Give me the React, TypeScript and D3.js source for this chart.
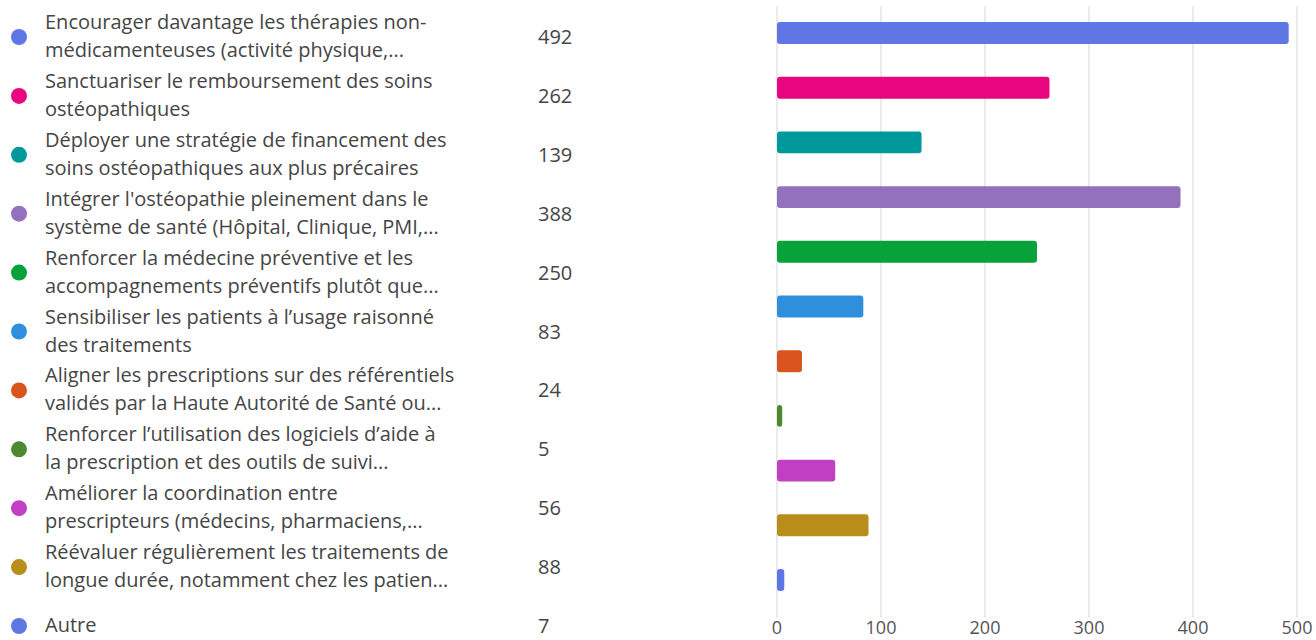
import * as d3 from 'd3';
import { useRef, useEffect } from 'react';

const labels: string[][] = [
    ["Encourager davantage les thérapies non-", "médicamenteuses (activité physique,..."],
    ["Sanctuariser le remboursement des soins", "ostéopathiques"],
    ["Déployer une stratégie de financement des", "soins ostéopathiques aux plus précaires"],
    ["Intégrer l'ostéopathie pleinement dans le", "système de santé (Hôpital, Clinique, PMI,..."],
    ["Renforcer la médecine préventive et les", "accompagnements préventifs plutôt que..."],
    ["Sensibiliser les patients à l’usage raisonné", "des traitements"],
    ["Aligner les prescriptions sur des référentiels", "validés par la Haute Autorité de Santé ou..."],
    ["Renforcer l’utilisation des logiciels d’aide à", "la prescription et des outils de suivi..."],
    ["Améliorer la coordination entre", "prescripteurs (médecins, pharmaciens,..."],
    ["Réévaluer régulièrement les traitements de", "longue durée, notamment chez les patien..."],
    ["Autre"],
];

const counts: number[] = [492, 262, 139, 388, 250, 83, 24, 5, 56, 88, 7];

const colors: string[] = [
    "#5f77e4", "#e8067f", "#00999b", "#9471bd", "#07a23a",
    "#2f8fdc", "#d9531d", "#4d8a2f", "#c03fc2", "#b88d1c", "#5f77e4",
];

const xTicks: number[] = [0, 100, 200, 300, 400, 500];

const W = 1316, H = 640;

const App = () => {
    const ref = useRef<SVGSVGElement>(null);

    useEffect(() => {
        if (!ref.current) return;
        const svg = d3.select(ref.current);
        svg.selectAll("*").remove();

        const font = "'Open Sans', sans-serif";
        const idx = counts.map((_, i) => i);

        // legend on the left
        const yLeg = d3.scalePoint<number>().domain(idx).range([37, 626]);

        const rows = svg.append("g").selectAll("g")
            .data(idx)
            .enter().append("g")
            .attr("transform", d => "translate(0," + yLeg(d) + ")");

        rows.append("circle")
            .attr("cx", 19)
            .attr("cy", 0)
            .attr("r", 8)
            .style("fill", d => colors[d]);

        rows.each(function (d) {
            const g = d3.select(this);
            const lines = labels[d];
            const t = g.append("text")
                .attr("x", 45)
                .style("font-family", font)
                .style("font-size", "20px")
                .style("fill", "#454545");
            lines.forEach((l, j) => {
                t.append("tspan")
                    .attr("x", 45)
                    .attr("y", lines.length === 1 ? 6 : (j === 0 ? -8 : 20))
                    .text(l);
            });
        });

        rows.append("text")
            .attr("x", 538)
            .attr("y", 7)
            .style("font-family", font)
            .style("font-size", "20px")
            .style("fill", "#454545")
            .text(d => counts[d]);

        // bars on the right
        const x = d3.scaleLinear().domain([0, 500]).range([777, 1297]);
        const y = d3.scaleBand<number>().domain(idx).range([5.65, 607.35])
            .paddingInner(0.6).paddingOuter(0.3);

        svg.append("g").selectAll("line")
            .data(xTicks)
            .enter().append("line")
            .attr("x1", d => x(d))
            .attr("x2", d => x(d))
            .attr("y1", 6)
            .attr("y2", 618)
            .style("stroke", "#e3e3e3")
            .style("stroke-width", 1.5);

        svg.append("g").selectAll("text")
            .data(xTicks)
            .enter().append("text")
            .attr("x", d => x(d))
            .attr("y", 634)
            .attr("text-anchor", "middle")
            .style("font-family", font)
            .style("font-size", "18px")
            .style("fill", "#555")
            .text(d => d);

        svg.append("g").selectAll("rect")
            .data(idx)
            .enter().append("rect")
            .attr("x", x(0))
            .attr("y", d => y(d)!)
            .attr("width", d => x(counts[d]) - x(0))
            .attr("height", y.bandwidth())
            .attr("rx", 3)
            .style("fill", d => colors[d]);
    }, []);

    return (
        <svg ref={ref} width={W} height={H}
            style={{ position: "absolute", left: 0, top: 0, background: "#fff" }}></svg>
    );
};

export default App;
